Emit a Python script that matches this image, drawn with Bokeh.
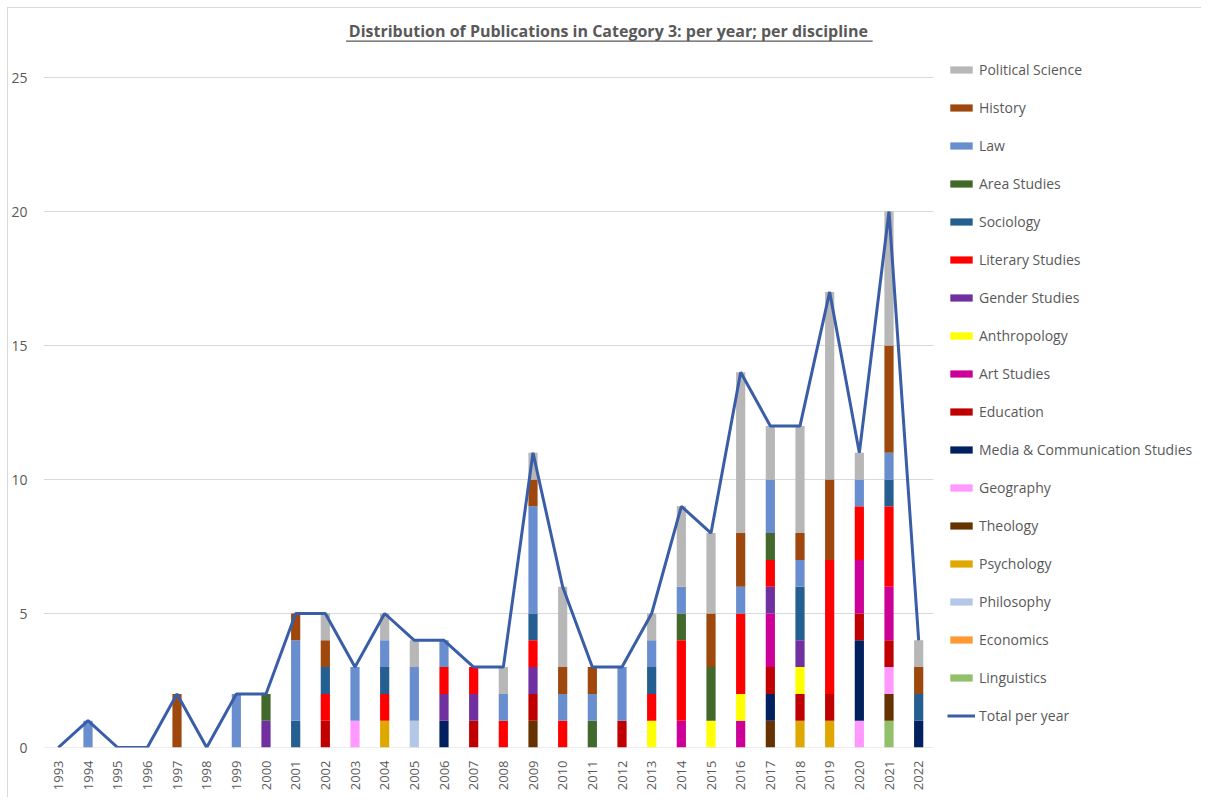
import math
from bokeh.plotting import figure
from bokeh.models import (Range1d, FixedTicker, Legend, LegendItem, Label, ColumnDataSource)
from bokeh.embed import file_html
from bokeh.resources import INLINE

years = list(range(1993, 2023))
year_labels = [str(y) for y in years]
y_ticks = [0, 5, 10, 15, 20, 25]

# disciplines in legend order (top of legend first)
disciplines = ["Political Science", "History", "Law", "Area Studies", "Sociology",
               "Literary Studies", "Gender Studies", "Anthropology", "Art Studies",
               "Education", "Media & Communication Studies", "Geography", "Theology",
               "Psychology", "Philosophy", "Economics", "Linguistics"]
colors = ["#B7B7B7", "#9E480E", "#698ED0", "#43682B", "#255E91",
          "#FF0000", "#7030A0", "#FFFF00", "#CC0099",
          "#C00000", "#002060", "#FF99FF", "#663300",
          "#DFA800", "#B4C7E7", "#FF9933", "#92C06A"]

political_science = [0,0,0,0,0,0,0,0,0,1,0,1,1,0,0,1,1,3,0,0,1,3,3,6,2,4,7,1,5,1]
history           = [0,0,0,0,2,0,0,0,1,1,0,0,0,0,0,0,1,1,1,0,0,0,2,2,0,1,3,0,4,1]
law               = [0,1,0,0,0,0,2,0,3,0,2,1,2,1,0,1,4,1,1,2,1,1,0,1,2,1,0,1,1,0]
area_studies      = [0,0,0,0,0,0,0,1,0,0,0,0,0,0,0,0,0,0,1,0,0,1,2,0,1,0,0,0,0,0]
sociology         = [0,0,0,0,0,0,0,0,1,1,0,1,0,0,0,0,1,0,0,0,1,0,0,0,0,2,0,0,1,1]
literary_studies  = [0,0,0,0,0,0,0,0,0,1,0,1,0,1,1,1,1,1,0,0,1,3,0,3,1,0,5,2,3,0]
gender_studies    = [0,0,0,0,0,0,0,1,0,0,0,0,0,1,1,0,1,0,0,0,0,0,0,0,1,1,0,0,0,0]
anthropology      = [0,0,0,0,0,0,0,0,0,0,0,0,0,0,0,0,0,0,0,0,1,0,1,1,0,1,0,0,0,0]
art_studies       = [0,0,0,0,0,0,0,0,0,0,0,0,0,0,0,0,0,0,0,0,0,1,0,1,2,0,0,2,2,0]
education         = [0,0,0,0,0,0,0,0,0,1,0,0,0,0,1,0,1,0,0,1,0,0,0,0,1,1,1,1,1,0]
media_comm        = [0,0,0,0,0,0,0,0,0,0,0,0,0,1,0,0,0,0,0,0,0,0,0,0,1,0,0,3,0,1]
geography         = [0,0,0,0,0,0,0,0,0,0,1,0,0,0,0,0,0,0,0,0,0,0,0,0,0,0,0,1,1,0]
theology          = [0,0,0,0,0,0,0,0,0,0,0,0,0,0,0,0,1,0,0,0,0,0,0,0,1,0,0,0,1,0]
psychology        = [0,0,0,0,0,0,0,0,0,0,0,1,0,0,0,0,0,0,0,0,0,0,0,0,0,1,1,0,0,0]
philosophy        = [0,0,0,0,0,0,0,0,0,0,0,0,1,0,0,0,0,0,0,0,0,0,0,0,0,0,0,0,0,0]
economics         = [0]*30
linguistics       = [0,0,0,0,0,0,0,0,0,0,0,0,0,0,0,0,0,0,0,0,0,0,0,0,0,0,0,0,1,0]

series = [political_science, history, law, area_studies, sociology, literary_studies,
          gender_studies, anthropology, art_studies, education, media_comm, geography,
          theology, psychology, philosophy, economics, linguistics]

total = [sum(s[i] for s in series) for i in range(len(years))]

data = {"year": years, "total": total}
for name, vals in zip(disciplines, series):
    data[name] = vals
source = ColumnDataSource(data)

TXT = "#595959"
FONT = "Open Sans"

x_lo, x_hi = years[0] - 0.5, years[-1] + 0.5
p = figure(frame_width=1150, frame_height=737, output_backend="svg", toolbar_location=None,
           x_range=Range1d(x_lo, x_lo + 1150 / 29.667), y_range=Range1d(0, 27.5),
           min_border_left=35, min_border_top=2, min_border_bottom=50, min_border_right=8,
           styles={"margin-left": "7px", "margin-top": "7px",
                   "border-left": "1px solid #D9D9D9", "border-top": "1px solid #D9D9D9"})
p.outline_line_color = None
p.background_fill_color = "white"

# horizontal gridlines only across the plotting area of the years
p.xgrid.grid_line_color = None
p.ygrid.grid_line_color = None
p.segment(x0=[x_lo] * len(y_ticks), x1=[x_hi] * len(y_ticks), y0=y_ticks, y1=y_ticks,
          line_color="#D9D9D9", line_width=1)

# stacked bars: bottom of stack = last legend entry
stack_names = list(reversed(disciplines))
stack_colors = list(reversed(colors))
bars = p.vbar_stack(stack_names, x="year", width=0.31, color=stack_colors,
                    line_color=None, source=source)
line = p.line("year", "total", source=source, line_color="#3A5DA8", line_width=3)

items = [LegendItem(label=n, renderers=[r]) for n, r in zip(stack_names, bars)]
items = list(reversed(items))
items.append(LegendItem(label="Total per year", renderers=[line]))
legend = Legend(items=items, location=(904, 22))
legend.border_line_color = None
legend.background_fill_alpha = 0
legend.margin = 0
legend.padding = 0
legend.glyph_width = 28
legend.glyph_height = 9
legend.label_height = 20
legend.spacing = 18
legend.label_standoff = 4
legend.label_text_font = FONT
legend.label_text_font_size = "14px"
legend.label_text_color = TXT
p.add_layout(legend)

# axes
p.yaxis.ticker = FixedTicker(ticks=y_ticks)
p.yaxis.axis_line_color = None
p.yaxis.major_tick_line_color = None
p.yaxis.minor_tick_line_color = None
p.yaxis.major_label_standoff = 10
p.yaxis.major_label_text_font = FONT
p.yaxis.major_label_text_font_size = "14px"
p.yaxis.major_label_text_color = TXT

p.xaxis.ticker = FixedTicker(ticks=years)
p.xaxis.major_label_overrides = {y: l for y, l in zip(years, year_labels)}
p.xaxis.major_label_orientation = math.pi / 2
p.xaxis.axis_line_color = None
p.xaxis.major_tick_line_color = None
p.xaxis.minor_tick_line_color = None
p.xaxis.major_label_standoff = 7
p.xaxis.major_label_text_font = FONT
p.xaxis.major_label_text_font_size = "13px"
p.xaxis.major_label_text_color = TXT

# title inside the top band of the frame
title = Label(x=2011.54, y=26.75, text="Distribution of Publications in Category 3: per year; per discipline",
              text_align="center", text_baseline="middle", text_font=FONT,
              text_font_size="16px", text_font_style="bold", text_color=TXT)
p.add_layout(title)
p.segment(x0=[2002.7], y0=[26.36], x1=[2020.45], y1=[26.36], line_color=TXT, line_width=1.2)

open("out.html", "w").write(file_html(p, INLINE))
